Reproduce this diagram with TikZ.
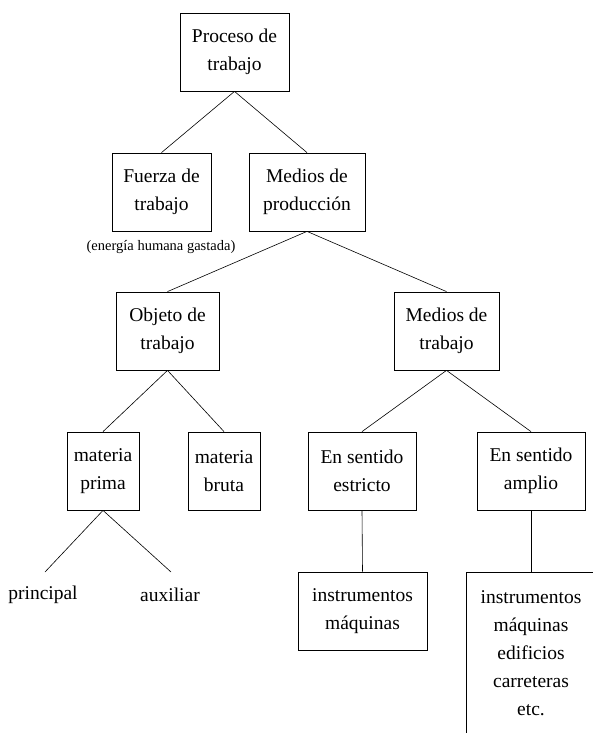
\documentclass[tikz,border=0pt]{standalone}
\usepackage{fontspec}
\setmainfont{Liberation Serif}
\begin{document}
\begin{tikzpicture}[x=1pt,y=-1pt,
  boxst/.style={draw=black, line width=0.8pt, align=center, minimum height=78pt, inner sep=2pt,
    font=\fontsize{19.5}{28}\selectfont},
  txt/.style={align=center, inner sep=0pt, font=\fontsize{19.5}{28}\selectfont},
  small/.style={inner sep=0pt, font=\fontsize{14.5}{18}\selectfont},
  conn/.style={draw=black, line width=0.6pt}]
\clip (0,0) rectangle (593,733);
\fill[white] (0,0) rectangle (593,733);
% nodes
\node[boxst, minimum width=109pt] (P) at (234.5,52) {Proceso de\\trabajo};
\node[boxst, minimum width=99pt] (F) at (161.5,192) {Fuerza de\\trabajo};
\node[boxst, minimum width=116pt] (MP) at (307,192) {Medios de\\producción};
\node[small] (E) at (161,247) {(energía humana gastada)};
\node[boxst, minimum width=103pt] (O) at (167.5,331) {Objeto de\\trabajo};
\node[boxst, minimum width=105pt] (MT) at (446.5,331) {Medios de\\trabajo};
\node[boxst, minimum width=72pt] (mp) at (103,471) {materia\\prima};
\node[boxst, minimum width=72pt] (mb) at (224,471) {materia\\bruta};
\node[boxst, minimum width=108pt] (ES) at (362,471) {En sentido\\estricto};
\node[boxst, minimum width=108pt] (EA) at (531,471) {En sentido\\amplio};
\node[boxst, minimum width=129pt] (I1) at (362.5,611) {instrumentos\\máquinas};
\node[boxst, minimum width=130pt, minimum height=220pt, anchor=north] (I2) at (531,572) {};
\node[txt] (I2t) at (531,653) {instrumentos\\máquinas\\edificios\\carreteras\\etc.};
\coordinate (pl) at (45,572);
\coordinate (al) at (171,572);
\node[txt] (pr) at (43,595) {principal};
\node[txt] (au) at (170,595) {auxiliar};
% connectors
\draw[conn] (P.south) -- (F.north);
\draw[conn] (P.south) -- (MP.north);
\draw[conn] (MP.south) -- (O.north);
\draw[conn] (MP.south) -- (MT.north);
\draw[conn] (O.south) -- (mp.north);
\draw[conn] (O.south) -- (mb.north);
\draw[conn] (MT.south) -- (ES.north);
\draw[conn] (MT.south) -- (EA.north);
\draw[conn] (mp.south) -- (pl);
\draw[conn] (mp.south) -- (al);
\draw[conn] (ES.south) -- (I1.north);
\draw[conn] (EA.south) -- (I2.north);
\end{tikzpicture}
\end{document}
